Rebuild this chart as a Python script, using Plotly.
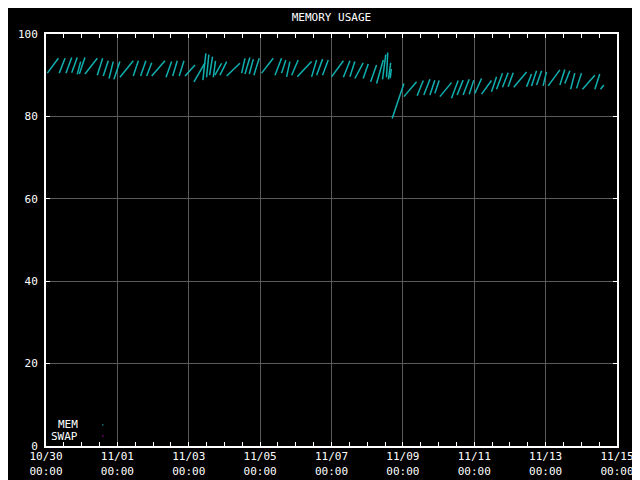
import datetime as dt
import plotly.graph_objects as go

# ---- data (hours since 10/30 00:00, memory usage %) ----
seg_t0 = [0.9, 8.9, 13.4, 17.3, 21.0, 22.4, 26.2, 34.5, 38.5, 42.4, 45.7, 49.7, 58.7, 63.6, 67.7,
          71.1, 80.7, 85.2, 89.6, 93.5, 99.5, 105.5, 108.0, 110.0, 112.5, 113.6, 117.0, 121.5,
          131.6, 133.8, 136.7, 139.8, 145.0, 154.0, 158.4, 161.8, 165.2, 169.0, 178.6, 182.0,
          186.0, 192.0, 200.0, 204.4, 207.7, 213.3, 218.3, 222.3, 226.3, 229.0, 230.3, 231.5,
          232.8, 240.7, 249.6, 254.1, 258.2, 261.5, 264.9, 272.7, 276.5, 280.5, 284.6, 288.4,
          292.9, 299.6, 303.0, 307.0, 310.8, 314.6, 323.2, 326.5, 329.9, 334.3, 337.7, 345.6,
          348.9, 352.8, 356.8, 360.8, 369.1, 372.9]
seg_v0 = [90.5, 90.5, 90.5, 90.6, 90.2, 90.3, 90.3, 90.0, 89.8, 89.2, 89.0, 89.5, 89.8, 89.8, 89.8,
          89.8, 89.5, 89.8, 89.8, 89.8, 88.4, 88.8, 89.5, 90.0, 89.5, 90.0, 90.0, 89.8,
          90.5, 90.3, 90.3, 90.0, 90.5, 90.0, 90.5, 89.6, 90.0, 89.6, 89.6, 90.0,
          90.0, 89.6, 89.5, 89.6, 89.2, 89.2, 88.4, 88.0, 89.0, 89.5, 89.0, 89.3,
          79.5, 84.8, 85.0, 85.2, 85.2, 85.6, 84.8, 84.4, 85.2, 85.2, 85.4, 85.6,
          85.4, 86.0, 86.6, 87.1, 87.2, 87.1, 87.2, 87.4, 87.6, 87.4, 87.4, 87.6,
          88.0, 86.6, 86.8, 86.6, 86.6, 86.6]
seg_t1 = [8.3, 12.8, 17.3, 21.0, 23.3, 26.2, 34.5, 38.1, 41.9, 45.2, 49.7, 58.7, 62.1, 67.2, 71.1,
          80.0, 84.5, 88.3, 92.8, 100.2, 106.9, 107.5, 109.5, 112.0, 114.0, 118.1, 121.5, 130.4,
          133.8, 137.1, 139.4, 143.4, 152.8, 158.4, 161.3, 164.0, 169.6, 178.6, 182.0, 186.0,
          189.8, 200.0, 204.4, 207.7, 213.3, 216.7, 222.3, 226.8, 228.5, 229.8, 231.8, 232.2,
          240.7, 249.2, 253.7, 258.2, 261.5, 264.4, 272.7, 277.2, 280.5, 284.6, 287.7, 292.9,
          299.6, 303.0, 307.0, 310.8, 314.2, 323.2, 326.5, 329.9, 333.3, 336.6, 345.6, 348.9,
          352.3, 355.6, 360.1, 369.1, 372.4, 375.1]
seg_v1 = [94.1, 94.1, 94.3, 94.3, 93.3, 94.3, 94.1, 94.1, 93.5, 93.3, 93.3, 93.5, 93.5, 93.5, 93.0,
          93.5, 93.3, 93.5, 93.5, 92.5, 93.0, 95.3, 95.0, 94.5, 93.5, 92.9, 93.3, 92.9,
          94.1, 94.3, 93.9, 94.1, 94.1, 94.1, 93.7, 93.3, 93.7, 93.3, 93.7, 93.9,
          93.7, 93.5, 93.5, 93.3, 93.0, 92.7, 92.5, 93.7, 95.0, 95.5, 93.0, 91.5,
          88.0, 88.4, 88.7, 89.0, 88.8, 88.7, 88.2, 88.7, 88.8, 89.0, 88.8, 89.2,
          88.7, 89.6, 90.5, 90.6, 90.6, 90.8, 90.3, 91.1, 91.1, 90.8, 91.3, 91.4,
          91.1, 90.5, 90.5, 90.0, 90.3, 87.6]

tick_days = [0, 2, 4, 6, 8, 10, 12, 14, 16]
tick_text = ["10/30<br>00:00", "11/01<br>00:00", "11/03<br>00:00", "11/05<br>00:00",
             "11/07<br>00:00", "11/09<br>00:00", "11/11<br>00:00", "11/13<br>00:00",
             "11/15<br>00:00"]

base = dt.datetime(2023, 10, 30)

xs, ys = [], []
for t0, v0, t1, v1 in zip(seg_t0, seg_v0, seg_t1, seg_v1):
    xs += [base + dt.timedelta(hours=t0), base + dt.timedelta(hours=t1), None]
    ys += [v0, v1, None]

MONO = "DejaVu Sans Mono"
CYAN = "#10b0b0"
GRID = "#5a5a5a"
FONT = dict(family=MONO, size=11, color="white")

fig = go.Figure()
fig.add_trace(go.Scatter(x=xs, y=ys, mode="lines", line=dict(color=CYAN, width=1.5),
                         name="MEM", hoverinfo="skip", connectgaps=False))

axis_common = dict(
    showline=True, linecolor="white", linewidth=2, mirror="ticks",
    ticks="inside", ticklen=4, tickcolor="white", tickwidth=1,
    gridcolor=GRID, gridwidth=1, zeroline=False, automargin=False,
    tickfont=FONT,
)

fig.update_xaxes(
    type="date",
    range=[base, base + dt.timedelta(days=16)],
    tickmode="array",
    tickvals=[base + dt.timedelta(days=d) for d in tick_days],
    ticktext=tick_text,
    ticklabelstandoff=-1,
    minor=dict(tick0=base, dtick=12 * 3600 * 1000, ticks="inside", ticklen=4,
               tickcolor="white", showgrid=False),
    **axis_common,
)
fig.update_yaxes(range=[0, 100], dtick=20, ticklabelstandoff=4, **axis_common)

# page body has an 8px margin: figure is 632x472 so the plot lands where the reference's is
fig.update_layout(
    width=632, height=472,
    paper_bgcolor="black", plot_bgcolor="black",
    margin=dict(l=38, r=23, t=26, b=34, autoexpand=False),
    showlegend=False,
    title=dict(text="MEMORY USAGE", x=(331.5 - 8) / 632, xanchor="center",
               y=1 - 9 / 472, yanchor="middle", font=FONT),
    font=dict(family=MONO, color="white"),
    shapes=[
        dict(type="rect", xref="paper", yref="paper", x0=0.004, x1=0.128, y0=0.004, y1=0.063,
             fillcolor="black", line=dict(width=0), layer="below"),
        dict(type="rect", xref="paper", yref="paper", x0=0.0985, x1=0.1005, y0=0.0495, y1=0.0525,
             fillcolor=CYAN, line=dict(width=0)),
        dict(type="rect", xref="paper", yref="paper", x0=0.0985, x1=0.1005, y0=0.0225, y1=0.0255,
             fillcolor="#c000c0", line=dict(width=0)),
    ],
    annotations=[
        dict(text="MEM", xref="paper", yref="paper", x=0.060, y=0.051, xanchor="right",
             yanchor="middle", showarrow=False, height=11, font=FONT),
        dict(text="SWAP", xref="paper", yref="paper", x=0.060, y=0.024, xanchor="right",
             yanchor="middle", showarrow=False, height=11, font=FONT),
    ],
)

fig.write_html("out.html")
